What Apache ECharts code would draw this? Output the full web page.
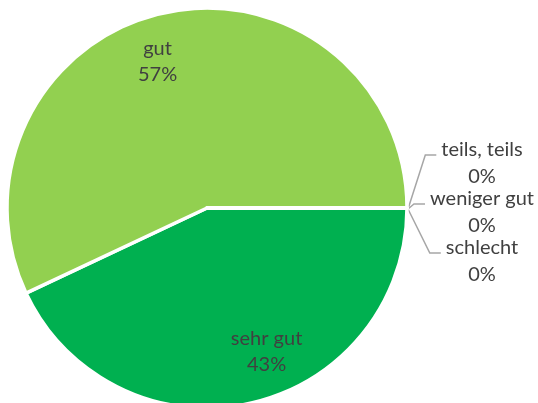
<!DOCTYPE html>
<html>
<head>
<meta charset="utf-8">
<script src="https://cdn.jsdelivr.net/npm/echarts@6/dist/echarts.min.js"></script>
<style>
  html, body { margin: 0; padding: 0; background: #ffffff; }
  #chart { width: 538px; height: 403px; }
</style>
</head>
<body>
<div id="chart"></div>
<script>
// Survey answers and their shares in percent
const categories = ['sehr gut', 'gut', 'teils, teils', 'weniger gut', 'schlecht'];
const percents = [43, 57, 0, 0, 0];
const colors = ['#00B050', '#92D050', '#FFC000', '#ED7D31', '#C00000'];

const FONT = 'Lato';
const FONT_SIZE = 20;
const TEXT_COLOR = '#404040';
const CX = 207, CY = 208, R = 200;

// angle (radians, clockwise from 3 o'clock) at the middle of each slice
const total = percents.reduce((a, b) => a + b, 0);
const midAngles = [];
let acc = 0;
percents.forEach(v => {
  const a = v / total * Math.PI * 2;
  midAngles.push(acc + a / 2);
  acc += a;
});

const ctx = document.createElement('canvas').getContext('2d');
ctx.font = FONT_SIZE + 'px ' + FONT;
const textWidth = t => ctx.measureText(t).width;

// labels inside the big slices: a bit further out than half radius, turned slightly back
const insideRadius = 155;
const insideTurn = [-10, -6].map(d => d * Math.PI / 180);
// labels for the empty slices, stacked to the right of the pie
const outsideDx = 75;
const outsideTop = -58;
const outsideStep = 49;
const outsideLineH = 27;

const chart = echarts.init(document.getElementById('chart'), null, { renderer: 'canvas' });

const data = categories.map((name, i) => {
  const item = { name: name, value: percents[i], itemStyle: { color: colors[i] } };
  if (percents[i] > 0) {
    item.label = { position: 'inside', lineHeight: 26 };
    item.labelLine = { show: false };
  }
  return item;
});

chart.setOption({
  animation: false,
  backgroundColor: '#ffffff',
  series: [{
    type: 'pie',
    center: [CX, CY],
    radius: R,
    startAngle: 0,
    clockwise: true,
    avoidLabelOverlap: false,
    minShowLabelAngle: 0,
    itemStyle: { borderColor: '#ffffff', borderWidth: 3.5 },
    label: {
      show: true,
      position: 'outside',
      formatter: p => p.name + '\n' + p.value + '%',
      fontFamily: FONT,
      fontSize: FONT_SIZE,
      color: TEXT_COLOR,
      lineHeight: outsideLineH
    },
    labelLine: {
      show: true,
      length: 15,
      length2: 10,
      lineStyle: { color: '#A6A6A6', width: 1.5 }
    },
    emphasis: { disabled: true },
    data: data,
    labelLayout: function (params) {
      const i = params.dataIndex;
      if (percents[i] > 0) {
        const a = midAngles[i] + insideTurn[i];
        return {
          x: CX + insideRadius * Math.cos(a),
          y: CY + insideRadius * Math.sin(a),
          align: 'center',
          verticalAlign: 'middle'
        };
      }
      // k-th empty slice
      let k = 0;
      for (let j = 0; j < i; j++) if (percents[j] === 0) k++;
      const ex = CX + R * Math.cos(midAngles[i]);
      const ey = CY + R * Math.sin(midAngles[i]);
      const cx = ex + outsideDx;
      const firstMid = ey + outsideTop + k * outsideStep;
      const top = firstMid - outsideLineH / 2;
      const start = cx - textWidth(categories[i]) / 2;
      const lineY = firstMid + 5;
      const endX = start - 5;
      return {
        x: cx,
        y: top,
        align: 'center',
        verticalAlign: 'top',
        labelLinePoints: [[ex + 1, ey + 1], [endX - 11, lineY], [endX, lineY]]
      };
    }
  }]
});
</script>
</body>
</html>
